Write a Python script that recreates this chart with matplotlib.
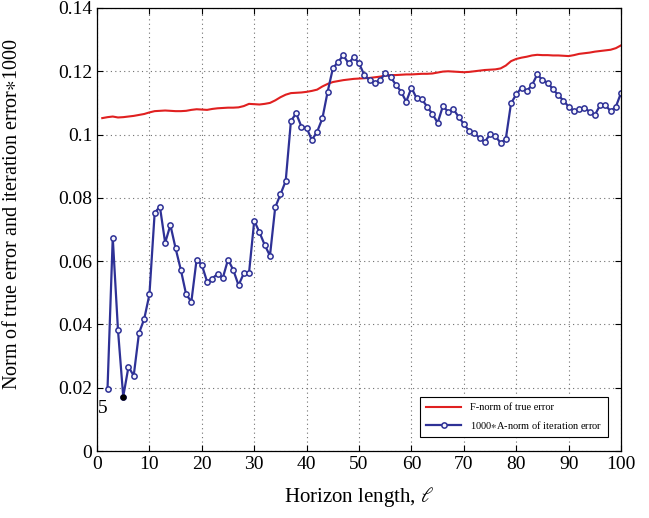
import matplotlib
matplotlib.use("Agg")
import matplotlib.pyplot as plt
import numpy as np

# Horizon lengths and error norms
horizon_true = list(range(1, 101))
true_error = [
    0.1052, 0.1055, 0.1057, 0.1054, 0.1055, 0.1057, 0.1059, 0.1062, 0.1065, 0.1070,
    0.1074, 0.1075, 0.1076, 0.1075, 0.1074, 0.1074, 0.1075, 0.1078, 0.1080, 0.1079,
    0.1078, 0.1081, 0.1083, 0.1084, 0.1085, 0.1085, 0.1086, 0.1090, 0.1097, 0.1096,
    0.1095, 0.1097, 0.1100, 0.1108, 0.1118, 0.1126, 0.1131, 0.1132, 0.1133, 0.1135,
    0.1138, 0.1142, 0.1152, 0.1160, 0.1166, 0.1169, 0.1172, 0.1174, 0.1176, 0.1177,
    0.1178, 0.1179, 0.1181, 0.1183, 0.1186, 0.1188, 0.1188, 0.1189, 0.1190, 0.1190,
    0.1191, 0.1192, 0.1192, 0.1193, 0.1196, 0.1199, 0.1200, 0.1199, 0.1198, 0.1197,
    0.1198, 0.1200, 0.1202, 0.1204, 0.1205, 0.1206, 0.1209, 0.1218, 0.1232, 0.1239,
    0.1243, 0.1246, 0.1250, 0.1252, 0.1251, 0.1251, 0.1250, 0.1250, 0.1249, 0.1248,
    0.1251, 0.1255, 0.1257, 0.1259, 0.1262, 0.1264, 0.1266, 0.1268, 0.1273, 0.1282,
]

horizon_iter = list(range(2, 101))
iter_error = [
    0.0196, 0.0674, 0.0382, 0.0172, 0.0266, 0.0238, 0.0372, 0.0417, 0.0495,
    0.0753, 0.0772, 0.0658, 0.0714, 0.0640, 0.0572, 0.0495, 0.0472, 0.0605, 0.0588,
    0.0535, 0.0545, 0.0560, 0.0547, 0.0605, 0.0572, 0.0524, 0.0561, 0.0562, 0.0728,
    0.0691, 0.0651, 0.0617, 0.0770, 0.0811, 0.0853, 0.1043, 0.1067, 0.1025, 0.1020,
    0.0983, 0.1009, 0.1051, 0.1135, 0.1209, 0.1230, 0.1250, 0.1225, 0.1245, 0.1225,
    0.1188, 0.1172, 0.1162, 0.1172, 0.1193, 0.1182, 0.1158, 0.1136, 0.1104, 0.1148,
    0.1114, 0.1111, 0.1088, 0.1065, 0.1037, 0.1090, 0.1072, 0.1080, 0.1056, 0.1033,
    0.1012, 0.1006, 0.0988, 0.0977, 0.1001, 0.0995, 0.0974, 0.0986, 0.1099, 0.1127,
    0.1148, 0.1138, 0.1156, 0.1190, 0.1172, 0.1164, 0.1143, 0.1125, 0.1107, 0.1088,
    0.1074, 0.1081, 0.1085, 0.1072, 0.1062, 0.1093, 0.1093, 0.1074, 0.1088, 0.1132,
]

# data tip left on the minimum
tip_x = 5
tip_label = "5"

x_ticks = list(range(0, 101, 10))
y_ticks = [0, 0.02, 0.04, 0.06, 0.08, 0.1, 0.12, 0.14]
y_tick_labels = ["0", "0.02", "0.04", "0.06", "0.08", "0.1", "0.12", "0.14"]

plt.rcParams["font.family"] = ["Liberation Serif", "DejaVu Serif"]
plt.rcParams["mathtext.fontset"] = "stix"

RED = "#e02020"
BLUE = "#2e3196"

fig = plt.figure(figsize=(6.49, 5.18), dpi=100)
ax = fig.add_axes([0.1495, 0.1293, 0.8075, 0.8553])

ax.plot(horizon_true, true_error, color=RED, linewidth=1.5, label="F-norm of true error")
ax.plot(horizon_iter, iter_error, color=BLUE, linewidth=1.6, marker="o", markersize=3.8,
        markerfacecolor="#f4f4fb", markeredgecolor=BLUE, markeredgewidth=1.1,
        label=r"1000$\ast$A-norm of iteration error")

tip_y = iter_error[horizon_iter.index(tip_x)]
ax.plot([tip_x], [tip_y], "o", color="black", markersize=3.5, zorder=5)
ax.text(0.2, tip_y - 0.0012, tip_label, fontsize=14, ha="left", va="top")

ax.set_xlim(0, 100)
ax.set_ylim(0, 0.14)
ax.set_xticks(x_ticks)
ax.set_yticks(y_ticks)
ax.set_yticklabels(y_tick_labels)
ax.tick_params(direction="in", labelsize=14, length=4, width=0.8, top=True, right=True)
ax.grid(True, linestyle=(0, (1, 3)), color="#707070", linewidth=0.8)

ax.set_xlabel(r"Horizon length, $\ell$", fontsize=15, labelpad=9)
ax.set_ylabel(r"Norm of true error and iteration error$\ast$1000", fontsize=14.5)
ax.yaxis.set_label_coords(-0.143, 0.535)

for spine in ax.spines.values():
    spine.set_linewidth(0.9)

leg = ax.legend(loc="lower right", bbox_to_anchor=(0.985, 0.02), fontsize=7.5,
                fancybox=False, edgecolor="black", framealpha=1,
                handlelength=3.4, borderpad=0.6, labelspacing=0.6)
leg.get_frame().set_linewidth(0.8)

fig.savefig("out.png", dpi=100)
